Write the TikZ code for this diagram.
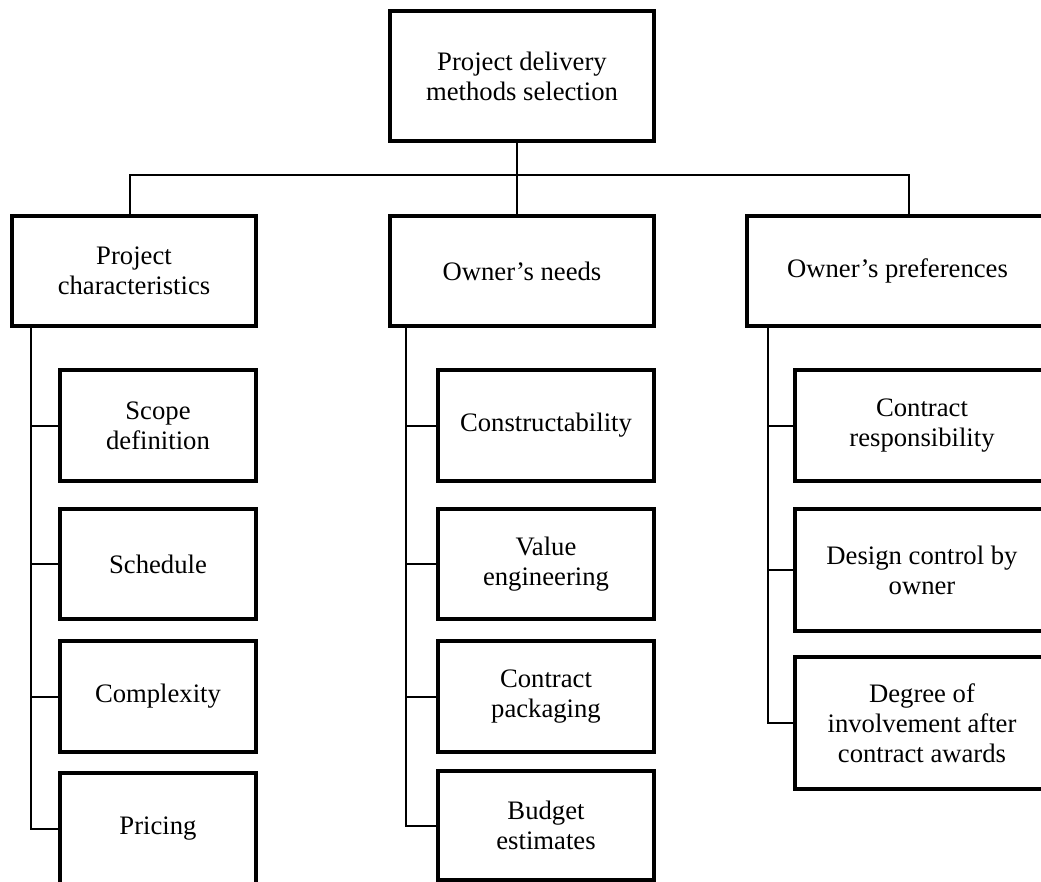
\documentclass[tikz,border=0pt]{standalone}
\usepackage{fontspec}
\setmainfont{Liberation Serif}
\usepackage{tikz}
\usetikzlibrary{positioning}
\usetikzlibrary{calc}

\begin{document}
\begin{tikzpicture}[x=0.75pt,y=-0.75pt,
  every node/.style={draw,rectangle,line width=2.7pt,align=center,inner sep=0pt,
    font=\fontsize{20}{22.5}\selectfont},
  link/.style={line width=1.5pt}]
\clip (0,0) rectangle (1041,881);
\node[minimum width=198pt,minimum height=97.5pt] (top) at (522,76) {Project delivery\\methods selection};
\node[minimum width=183pt,minimum height=82.5pt] (proj) at (134,271) {Project\\characteristics};
\node[minimum width=198pt,minimum height=82.5pt] (needs) at (522,271) {Owner’s needs};
\node[minimum width=225.75pt,minimum height=82.5pt] (prefs) at (897.5,271) {Owner’s preferences};
\node[minimum width=147pt,minimum height=83.25pt] (scope) at (158,425.5) {Scope\\definition};
\node[minimum width=147pt,minimum height=82.5pt] (sched) at (158,564) {Schedule};
\node[minimum width=147pt,minimum height=83.25pt] (cplx) at (158,696.5) {Complexity};
\node[minimum width=147pt,minimum height=83.25pt] (pricing) at (158,828.5) {Pricing};
\node[minimum width=162pt,minimum height=83.25pt] (constr) at (546,425.5) {Constructability};
\node[minimum width=162pt,minimum height=82.5pt] (value) at (546,564) {Value\\engineering};
\node[minimum width=162pt,minimum height=83.25pt] (pack) at (546,696.5) {Contract\\packaging};
\node[minimum width=162pt,minimum height=81.75pt] (budget) at (546,825.5) {Budget\\estimates};
\node[minimum width=190.5pt,minimum height=83.25pt] (resp) at (922,425.5) {Contract\\responsibility};
\node[minimum width=190.5pt,minimum height=91.5pt] (design) at (922,570) {Design control by\\owner};
\node[minimum width=190.5pt,minimum height=99pt] (degree) at (922,723) {Degree of\\involvement after\\contract awards};
\coordinate (busL) at (130,175);
\coordinate (busM) at (517,175);
\coordinate (busR) at (909,175);
\coordinate (lsp) at (30.5,326);
\coordinate (msp) at (406,326);
\coordinate (rsp) at (768,326);
\draw[link] (top.south -| busM) -- (needs.north -| busM);
\draw[link] (busL |- proj.north) -- (busL) -- (busR) -- (busR |- prefs.north);
\foreach \c in {scope,sched,cplx,pricing}
  \draw[link] (lsp) |- (\c.west);
\foreach \c in {constr,value,pack,budget}
  \draw[link] (msp) |- (\c.west);
\foreach \c in {resp,design,degree}
  \draw[link] (rsp) |- (\c.west);
\end{tikzpicture}
\end{document}
